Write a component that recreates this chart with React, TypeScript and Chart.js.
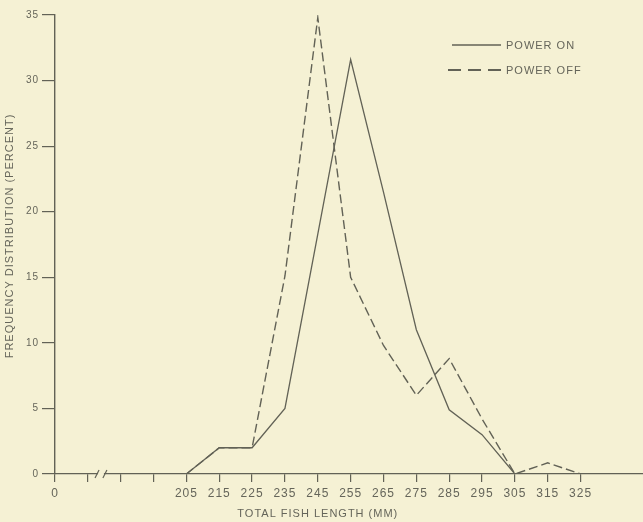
import React, { useEffect, useRef } from 'react';
import { Chart, registerables } from 'chart.js';

Chart.register(...registerables);

// ---- data ----
const lengths = [185, 195, 205, 215, 225, 235, 245, 255, 265, 275, 285, 295, 305, 315, 325, 344];
const powerOn = [0, 0, 0, 2, 2, 5, 18.3, 31.6, 21.5, 11, 4.9, 3.0, 0, 0, 0, 0];
const powerOff = [0, 0, 0, 2, 2, 15.1, 34.8, 15, 9.8, 6, 8.8, 4.2, 0, 0.85, 0, 0];

const xTickValues = [165, 175, 185, 195, 205, 215, 225, 235, 245, 255, 265, 275, 285, 295, 305, 315, 325];
const xTickLabels = ['0', '', '', '', '205', '215', '225', '235', '245', '255', '265', '275', '285', '295', '305', '315', '325'];
const yTickValues = [0, 5, 10, 15, 20, 25, 30, 35];

const seriesNames = ['POWER ON', 'POWER OFF'];
const xTitle = 'TOTAL FISH LENGTH (MM)';
const yTitle = 'FREQUENCY DISTRIBUTION (PERCENT)';

const BG = '#f5f1d4';
const INK = '#626256';
const TEXT = '#65655a';
const FONT = '"Liberation Sans", Arial, sans-serif';

export default function App() {
  const ref = useRef<HTMLCanvasElement | null>(null);

  useEffect(() => {
    const canvas = ref.current;
    if (!canvas) return;
    document.body.style.margin = '0';
    document.body.style.background = BG;

    const spacingPlugin = {
      id: 'spacing',
      beforeLayout(chart: any) { chart.ctx.letterSpacing = '1px'; },
      beforeDraw(chart: any) {
        const ctx = chart.ctx;
        ctx.save();
        ctx.fillStyle = BG;
        ctx.fillRect(0, 0, chart.width, chart.height);
        ctx.restore();
        ctx.letterSpacing = '1px';
      },
    };

    const decorPlugin = {
      id: 'decor',
      afterDraw(chart: any) {
        const ctx = chart.ctx;
        const xs = chart.scales.x;
        const ys = chart.scales.y;
        const area = chart.chartArea;
        const y0 = ys.getPixelForValue(0);

        // axis break
        const b1 = xs.getPixelForValue(177.8);
        const b2 = xs.getPixelForValue(180.2);
        ctx.save();
        ctx.fillStyle = BG;
        ctx.fillRect(b1 + 1, y0 - 2, b2 - b1 - 2, 4);
        ctx.strokeStyle = INK;
        ctx.lineWidth = 1.2;
        for (const b of [b1, b2]) {
          ctx.beginPath();
          ctx.moveTo(b - 2, y0 + 4);
          ctx.lineTo(b + 2, y0 - 4);
          ctx.stroke();
        }
        ctx.restore();

        // legend
        ctx.save();
        ctx.letterSpacing = '1px';
        ctx.font = `11px ${FONT}`;
        ctx.fillStyle = TEXT;
        ctx.textBaseline = 'middle';
        ctx.textAlign = 'left';
        const lx1 = area.right - 191;
        const lx0 = area.right - 195;
        const lx2 = area.right - 142;
        const ly1 = area.top + 30;
        const ly2 = area.top + 55;
        ctx.strokeStyle = INK;
        ctx.lineWidth = 1.3;
        ctx.beginPath();
        ctx.moveTo(lx1, ly1);
        ctx.lineTo(lx2, ly1);
        ctx.stroke();
        ctx.setLineDash([13, 7]);
        ctx.lineWidth = 1.8;
        ctx.beginPath();
        ctx.moveTo(lx0, ly2);
        ctx.lineTo(lx2, ly2);
        ctx.stroke();
        ctx.setLineDash([]);
        ctx.fillText(seriesNames[0], lx2 + 5, ly1 + 1);
        ctx.fillText(seriesNames[1], lx2 + 5, ly2 + 1);

        // x title
        ctx.textAlign = 'center';
        ctx.fillText(xTitle, xs.getPixelForValue(245), 514);

        // y title
        ctx.translate(10, 236);
        ctx.rotate(-Math.PI / 2);
        ctx.fillText(yTitle, 0, 0);
        ctx.restore();
      },
    };

    const chart = new Chart(canvas, {
      type: 'line',
      data: {
        datasets: [
          {
            label: seriesNames[0],
            data: lengths.map((x, i) => ({ x, y: powerOn[i] })),
            borderColor: INK,
            borderWidth: 1.3,
            pointRadius: 0,
            tension: 0,
            fill: false,
          },
          {
            label: seriesNames[1],
            data: lengths.map((x, i) => ({ x, y: powerOff[i] })),
            borderColor: INK,
            borderWidth: 1.4,
            borderDash: [9, 4],
            pointRadius: 0,
            tension: 0,
            fill: false,
          },
        ],
      },
      options: {
        animation: false,
        responsive: false,
        devicePixelRatio: 1,
        layout: { padding: { top: 15, right: 0, left: 0, bottom: 0 } },
        plugins: {
          legend: { display: false },
          tooltip: { enabled: false },
        },
        scales: {
          x: {
            type: 'linear',
            min: 165,
            max: 344,
            afterBuildTicks: (scale: any) => {
              scale.ticks = xTickValues.map((v) => ({ value: v }));
            },
            afterFit: (scale: any) => { scale.height = 48; },
            ticks: {
              autoSkip: false,
              maxRotation: 0,
              padding: 4,
              color: TEXT,
              font: { family: FONT, size: 12 },
              callback: (v: any) => {
                const i = xTickValues.indexOf(Number(v));
                return i >= 0 ? xTickLabels[i] : '';
              },
            },
            grid: { drawOnChartArea: false, drawTicks: true, tickLength: 8, color: INK, lineWidth: 1.2 },
            border: { display: true, color: INK, width: 1.3 },
          },
          y: {
            min: 0,
            max: 35,
            afterBuildTicks: (scale: any) => {
              scale.ticks = yTickValues.map((v) => ({ value: v }));
            },
            afterFit: (scale: any) => { scale.width = 55; },
            ticks: {
              padding: 3,
              color: TEXT,
              font: { family: FONT, size: 10 },
            },
            grid: { drawOnChartArea: false, drawTicks: true, tickLength: 13, color: INK, lineWidth: 1.2 },
            border: { display: true, color: INK, width: 1.4 },
          },
        },
      },
      plugins: [spacingPlugin, decorPlugin],
    });

    return () => chart.destroy();
  }, []);

  return (
    <div style={{ position: 'fixed', left: 0, top: 0, width: 643, height: 522, background: BG }}>
      <canvas ref={ref} width={643} height={522} style={{ display: 'block', width: 643, height: 522 }} />
    </div>
  );
}
